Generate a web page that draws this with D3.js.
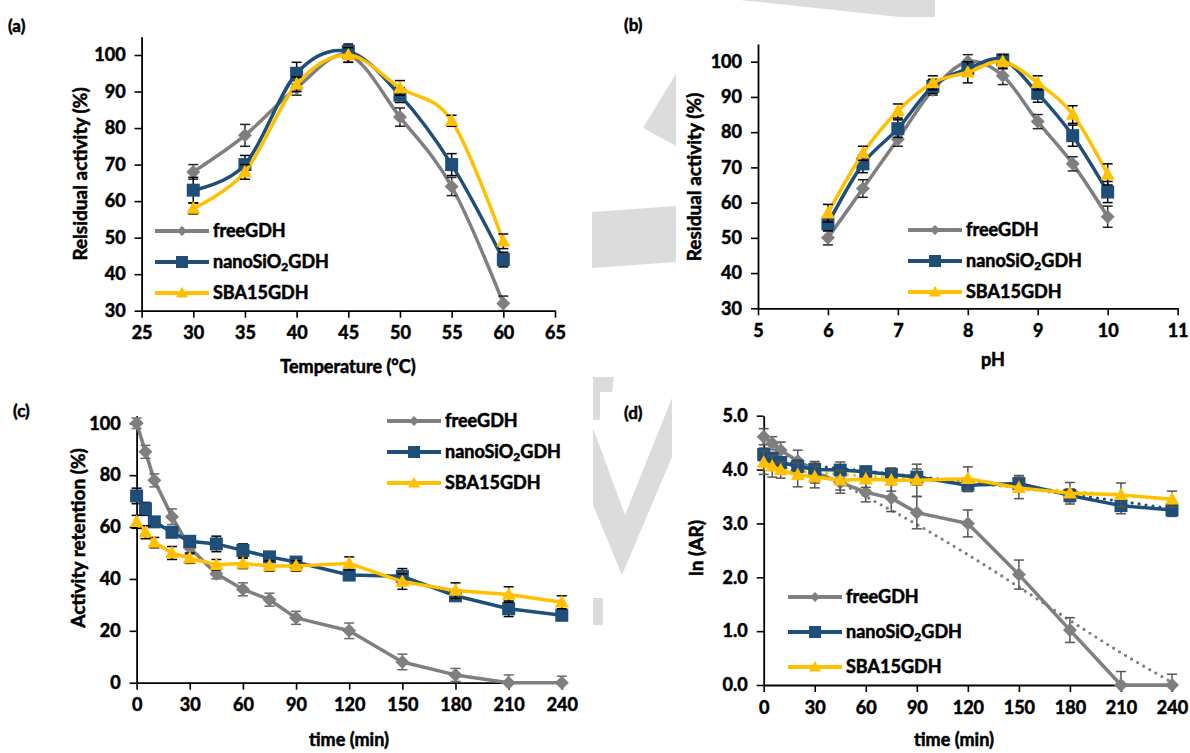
<!DOCTYPE html>
<html>
<head>
<meta charset="utf-8">
<script src="https://cdn.jsdelivr.net/npm/d3@7"></script>
<style>
  body { margin: 0; background: #fff; }
  svg text { font-family: Lato, "Open Sans", sans-serif; font-weight: bold; fill: #000;
             stroke: #000; stroke-width: 0.55px; }
</style>
</head>
<body>
<svg id="fig" width="1190" height="753"></svg>
<script>
// ---------- data ----------
const seriesNames = ["freeGDH", "nanoSiO2GDH", "SBA15GDH"];

// (a) temperature
const tempC = [30, 35, 40, 45, 50, 55, 60];
const freeTemp = [68, 78, 91, 100, 83, 64, 32];
const freeTempErr = [2, 3, 2, 2, 2.5, 2.5, 2];
const nanoTemp = [63, 70, 95, 101, 89, 70, 44];
const nanoTempErr = [3.5, 2.5, 3, 2, 2, 3, 2];
const sbaTemp = [58, 68, 92, 100, 91, 82, 49];
const sbaTempErr = [1.5, 2, 2, 2, 2, 1.5, 2];

// (b) pH
const pH = [6, 6.5, 7, 7.5, 8, 8.5, 9, 9.5, 10];
const freePH = [50, 64, 78, 92, 100, 96, 83, 71, 56];
const freePHErr = [2, 2.5, 2, 1.5, 2, 2.5, 2, 2, 3];
const nanoPH = [54, 71, 81, 93, 98, 100.5, 91, 79, 63];
const nanoPHErr = [2, 2.5, 2.5, 2, 2, 1.5, 2.5, 3, 3];
const sbaPH = [57, 74, 86, 94, 97, 100, 94, 85, 68];
const sbaPHErr = [2.5, 2, 2, 2, 3, 2, 2, 2.5, 3];

// (c) activity retention vs time
const timeMin = [0, 5, 10, 20, 30, 45, 60, 75, 90, 120, 150, 180, 210, 240];
const freeAR = [100, 89, 78, 64, 52, 42, 36, 32, 25, 20, 8, 3, 0, 0];
const freeARErr = [2, 2.5, 2.5, 3, 2.5, 2, 2.5, 2.5, 2.5, 3, 3, 2.5, 3, 2.5];
const nanoAR = [72, 67, 62, 58, 54.5, 53.5, 51, 48.5, 46.5, 41.5, 41, 33.5, 28.5, 26];
const nanoARErr = [3, 2.5, 2, 2, 2, 3, 2.5, 2, 2, 2, 3, 2, 3, 2];
const sbaAR = [62, 58, 54, 50, 48, 45.5, 46, 45, 45, 46, 39, 35.5, 34, 31];
const sbaARErr = [2.5, 2.5, 2, 2.5, 2, 2, 2, 2, 2, 2.5, 3, 3, 3, 2.5];

// (d) ln(AR) vs time
const freeLn = [4.61, 4.49, 4.36, 4.16, 3.95, 3.76, 3.58, 3.47, 3.2, 3.0, 2.05, 1.02, 0, 0];
const freeLnErr = [0.15, 0.12, 0.15, 0.2, 0.2, 0.2, 0.18, 0.25, 0.3, 0.25, 0.27, 0.23, 0.25, 0.2];
const nanoLn = [4.28, 4.2, 4.13, 4.06, 4.0, 3.99, 3.96, 3.91, 3.86, 3.71, 3.74, 3.52, 3.33, 3.25];
const nanoLnErr = [0.12, 0.12, 0.1, 0.12, 0.12, 0.15, 0.1, 0.12, 0.15, 0.12, 0.15, 0.12, 0.15, 0.12];
const sbaLn = [4.13, 4.06, 3.99, 3.9, 3.86, 3.8, 3.82, 3.8, 3.8, 3.83, 3.66, 3.56, 3.53, 3.45];
const sbaLnErr = [0.22, 0.2, 0.15, 0.22, 0.2, 0.18, 0.15, 0.2, 0.3, 0.22, 0.2, 0.2, 0.22, 0.15];

// dotted trendlines in (d)
const trendTime = [0, 30, 60, 90, 120, 150, 180, 210, 240];
const freeTrend = [4.5, 4.0, 3.5, 2.98, 2.42, 1.82, 1.2, 0.6, 0.05];
const nanoTrend = [4.18, 4.07, 3.97, 3.87, 3.77, 3.66, 3.54, 3.41, 3.27];
const sbaTrend = [4.02, 3.95, 3.88, 3.82, 3.75, 3.67, 3.6, 3.52, 3.44];

// tick values
const tempTicks = [25, 30, 35, 40, 45, 50, 55, 60, 65];
const pHTicks = [5, 6, 7, 8, 9, 10, 11];
const pctTicks = [30, 40, 50, 60, 70, 80, 90, 100];
const timeTicks = [0, 30, 60, 90, 120, 150, 180, 210, 240];
const arTicks = [0, 20, 40, 60, 80, 100];
const lnTicks = [0, 1, 2, 3, 4, 5];

// ---------- styles ----------
const styles = {
  freeGDH:     { color: "#7f7f7f", marker: "diamond",  size: 14, legSize: 10 },
  nanoSiO2GDH: { color: "#1f4e79", marker: "square",   size: 13, legSize: 12 },
  SBA15GDH:    { color: "#ffc000", marker: "triangle", size: 14, legSize: 12 }
};

function markerPath(type, s) {
  const h = s / 2;
  if (type === "diamond") return `M0,${-h}L${h},0L0,${h}L${-h},0Z`;
  if (type === "square") return `M${-h},${-h}H${h}V${h}H${-h}Z`;
  return `M0,${-h * 1.05}L${h},${h * 0.75}L${-h},${h * 0.75}Z`;
}

const svg = d3.select("#fig");

// ---------- faint watermark in the gaps ----------
const wm = svg.append("g").attr("fill", "#dcdcdc");
[
  [[740, 0], [935, 0], [935, 17], [900, 17]],
  [[671, 82], [676, 74], [676, 146], [643, 128]],
  [[592, 212], [676, 206], [676, 262], [592, 268]],
  [[593, 377], [614, 377], [612, 392], [600, 392], [600, 420], [593, 420]],
  [[593, 428], [625, 515], [672, 398], [672, 457], [622, 575], [593, 505]],
  [[593, 598], [603, 598], [603, 625], [593, 625]]
].forEach(p => wm.append("path").attr("d", "M" + p.join("L") + "Z"));

// ---------- panel drawing ----------
function drawPanel(cfg) {
  const g = svg.append("g");
  const x = d3.scaleLinear().domain(cfg.xDomain).range(cfg.xRange);
  const y = d3.scaleLinear().domain(cfg.yDomain).range(cfg.yRange);

  const xAxis = g.append("g")
      .attr("transform", `translate(0,${y(cfg.yDomain[0])})`)
      .call(d3.axisBottom(x).tickValues(cfg.xTicks).tickSize(7).tickSizeOuter(0)
        .tickPadding(9).tickFormat(cfg.xFormat || d3.format("d")));
  const yAxis = g.append("g")
      .attr("transform", `translate(${x(cfg.xDomain[0])},0)`)
      .call(d3.axisLeft(y).tickValues(cfg.yTicks).tickSize(7).tickSizeOuter(0)
        .tickPadding(9).tickFormat(cfg.yFormat || d3.format("d")));
  [xAxis, yAxis].forEach(a => {
    a.select(".domain").attr("stroke", "#000").attr("stroke-width", 1.8);
    a.selectAll(".tick line").attr("stroke", "#000").attr("stroke-width", 1.6);
    a.selectAll(".tick text").attr("font-size", 18).attr("font-family", null);
  });

  // titles
  g.append("text").attr("x", cfg.xTitle[0]).attr("y", cfg.xTitle[1])
    .attr("text-anchor", "middle").attr("font-size", 18).text(cfg.xLabel);
  g.append("text")
    .attr("transform", `translate(${cfg.yTitle[0]},${cfg.yTitle[1]}) rotate(-90)`)
    .attr("text-anchor", "middle").attr("dy", "0.35em").attr("font-size", 19).text(cfg.yLabel);
  g.append("text").attr("x", cfg.tag[0]).attr("y", cfg.tag[1])
    .attr("font-size", 17).text(cfg.tagText);

  // trendlines
  (cfg.trends || []).forEach(t => {
    g.append("path")
      .datum(t.values.map((v, i) => [t.xs[i], v]))
      .attr("fill", "none")
      .attr("stroke", styles[t.name].color)
      .attr("stroke-width", 3.2)
      .attr("stroke-linecap", "round")
      .attr("stroke-dasharray", "0,7")
      .attr("d", d3.line().x(d => x(d[0])).y(d => y(d[1])).curve(d3.curveMonotoneX));
  });

  const line = d3.line().x(d => x(d.x)).y(d => y(d.y)).curve(cfg.curve);

  cfg.series.forEach(s => {
    const st = styles[s.name];
    const pts = s.values.map((v, i) => ({ x: cfg.xs[i], y: v, e: s.err[i] }));

    g.append("path").datum(pts)
      .attr("fill", "none").attr("stroke", st.color)
      .attr("stroke-width", 3.5).attr("stroke-linejoin", "round")
      .attr("d", line);

    const eb = g.append("g").attr("stroke", s.errColor).attr("stroke-width", 1.5);
    pts.forEach(p => {
      const top = y(p.y + p.e), bot = y(Math.max(cfg.yDomain[0] - 0.0001, p.y - p.e));
      eb.append("line").attr("x1", x(p.x)).attr("x2", x(p.x)).attr("y1", top).attr("y2", bot);
      eb.append("line").attr("x1", x(p.x) - 5).attr("x2", x(p.x) + 5).attr("y1", top).attr("y2", top);
      eb.append("line").attr("x1", x(p.x) - 5).attr("x2", x(p.x) + 5).attr("y1", bot).attr("y2", bot);
    });

    g.append("g").selectAll("path").data(pts).join("path")
      .attr("transform", d => `translate(${x(d.x)},${y(d.y)})`)
      .attr("d", markerPath(st.marker, st.size))
      .attr("fill", st.color);
  });

  // legend
  const lg = g.append("g");
  seriesNames.forEach((name, i) => {
    const st = styles[name];
    const ly = cfg.legend.y + i * cfg.legend.dy;
    lg.append("line").attr("x1", cfg.legend.x).attr("x2", cfg.legend.x + 54)
      .attr("y1", ly).attr("y2", ly).attr("stroke", st.color).attr("stroke-width", 4);
    lg.append("path").attr("transform", `translate(${cfg.legend.x + 27},${ly})`)
      .attr("d", markerPath(st.marker, st.legSize)).attr("fill", st.color);
    const t = lg.append("text").attr("x", cfg.legend.x + 58).attr("y", ly)
      .attr("dy", "0.36em").attr("font-size", 18);
    if (name === "nanoSiO2GDH") {
      t.append("tspan").text("nanoSiO");
      t.append("tspan").attr("font-size", 12).attr("dy", "0.25em").text("2");
      t.append("tspan").attr("dy", "-0.17em").text("GDH");
    } else {
      t.text(name);
    }
  });
}

const smooth = d3.curveCardinal.tension(0);

drawPanel({
  xs: tempC, xDomain: [25, 65], xRange: [141.6, 555], xTicks: tempTicks,
  yDomain: [30, 105], yRange: [310.7, 310.7 - 255.7 * 75 / 70], yTicks: pctTicks,
  curve: smooth,
  series: [
    { name: "freeGDH", values: freeTemp, err: freeTempErr, errColor: "#222" },
    { name: "nanoSiO2GDH", values: nanoTemp, err: nanoTempErr, errColor: "#000" },
    { name: "SBA15GDH", values: sbaTemp, err: sbaTempErr, errColor: "#000" }
  ],
  xLabel: "Temperature (°C)", xTitle: [348, 373],
  yLabel: "Relsidual activity (%)", yTitle: [80, 174],
  tagText: "(a)", tag: [8, 32],
  legend: { x: 155, y: 231, dy: 31 }
});

drawPanel({
  xs: pH, xDomain: [5, 11], xRange: [758, 1177.6], xTicks: pHTicks,
  yDomain: [30, 105], yRange: [308.3, 308.3 - 246.6 * 75 / 70], yTicks: pctTicks,
  curve: smooth,
  series: [
    { name: "freeGDH", values: freePH, err: freePHErr, errColor: "#222" },
    { name: "nanoSiO2GDH", values: nanoPH, err: nanoPHErr, errColor: "#000" },
    { name: "SBA15GDH", values: sbaPH, err: sbaPHErr, errColor: "#000" }
  ],
  xLabel: "pH", xTitle: [993, 366],
  yLabel: "Residual activity (%)", yTitle: [694, 177],
  tagText: "(b)", tag: [624, 31],
  legend: { x: 908, y: 230, dy: 31 }
});

drawPanel({
  xs: timeMin, xDomain: [0, 240], xRange: [136.6, 561.8], xTicks: timeTicks,
  yDomain: [0, 103], yRange: [682.7, 682.7 - 259.4 * 1.03], yTicks: arTicks,
  curve: d3.curveLinear,
  series: [
    { name: "freeGDH", values: freeAR, err: freeARErr, errColor: "#6a6a6a" },
    { name: "nanoSiO2GDH", values: nanoAR, err: nanoARErr, errColor: "#000" },
    { name: "SBA15GDH", values: sbaAR, err: sbaARErr, errColor: "#000" }
  ],
  xLabel: "time (min)", xTitle: [349, 746],
  yLabel: "Activity retention (%)", yTitle: [78, 538],
  tagText: "(c)", tag: [13, 417],
  legend: { x: 387, y: 421, dy: 31 }
});

drawPanel({
  xs: timeMin, xDomain: [0, 240], xRange: [763.7, 1172], xTicks: timeTicks,
  yDomain: [0, 5], yRange: [685, 415.7], yTicks: lnTicks, yFormat: d3.format(".1f"),
  curve: d3.curveLinear,
  trends: [
    { name: "freeGDH", xs: trendTime, values: freeTrend },
    { name: "nanoSiO2GDH", xs: trendTime, values: nanoTrend },
    { name: "SBA15GDH", xs: trendTime, values: sbaTrend }
  ],
  series: [
    { name: "freeGDH", values: freeLn, err: freeLnErr, errColor: "#555" },
    { name: "nanoSiO2GDH", values: nanoLn, err: nanoLnErr, errColor: "#555" },
    { name: "SBA15GDH", values: sbaLn, err: sbaLnErr, errColor: "#555" }
  ],
  xLabel: "time (min)", xTitle: [954, 746],
  yLabel: "ln (AR)", yTitle: [696, 548],
  tagText: "(d)", tag: [624, 419],
  legend: { x: 788, y: 597, dy: 35 }
});
</script>
</body>
</html>
